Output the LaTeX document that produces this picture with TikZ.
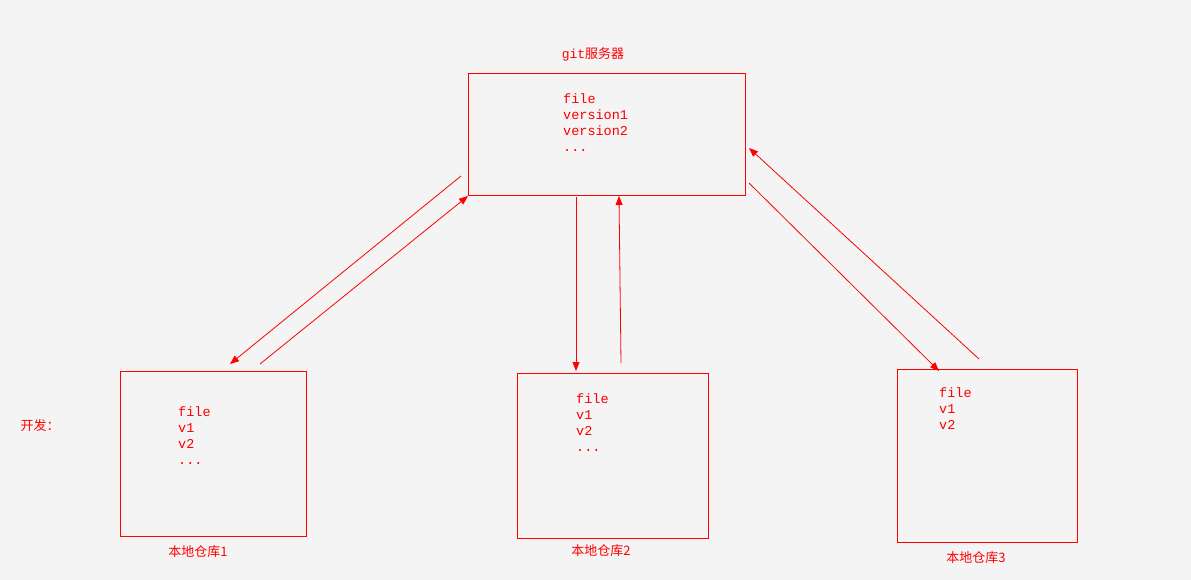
\documentclass[tikz,border=0pt]{standalone}
\usepackage{fontspec}
\setmonofont{Liberation Mono}
\newfontfamily\cjk{Noto Sans CJK SC}
\usetikzlibrary{arrows.meta}
\definecolor{bg}{HTML}{F4F4F4}
\definecolor{rd}{HTML}{FF0000}
\begin{document}
\begin{tikzpicture}[x=1pt,y=-1pt,
  box/.style={draw=rd,line width=0.8pt},
  txt/.style={text=rd,font=\ttfamily\fontsize{13.5}{16}\selectfont,anchor=north west,align=left,inner sep=0pt},
  lbl/.style={text=rd,font=\cjk\fontsize{13}{15}\selectfont,inner sep=0pt},
  arr/.style={draw=rd,line width=0.8pt,-{Triangle[length=9pt,width=7pt]}}]
\fill[bg] (0,0) rectangle (1191,580);
\useasboundingbox (0,0) rectangle (1191,580);
\draw[box] (468,73) rectangle (745,195);
\node[lbl] (sl) at (593,54) {{\ttfamily git}服务器};
\node[txt] (st) at (563,94) {file\\version1\\version2\\ ...};
\draw[box] (120,371) rectangle (306,536);
\node[txt] (t1) at (178,407) {file\\v1\\v2\\...};
\node[lbl] (l1) at (198,552) {本地仓库1};
\draw[box] (517,373) rectangle (708,538);
\node[txt] (t2) at (576,394) {file\\v1\\v2\\...};
\node[lbl] (l2) at (601,551) {本地仓库2};
\draw[box] (897,369) rectangle (1077,542);
\node[txt] (t3) at (939,388) {file\\v1\\v2};
\node[lbl] (l3) at (976,558) {本地仓库3};
\node[lbl] (kf) at (40,426) {开发：};
\coordinate (a1) at (461,176); \coordinate (b1) at (230,364);
\coordinate (a2) at (260,364); \coordinate (b2) at (468,196);
\coordinate (a3) at (576,197); \coordinate (b3) at (576,371);
\coordinate (a4) at (621,363); \coordinate (b4) at (619,196);
\coordinate (a5) at (749,183); \coordinate (b5) at (939,371);
\coordinate (a6) at (979,359); \coordinate (b6) at (749,148);
\draw[arr] (a1)--(b1); \draw[arr] (a2)--(b2); \draw[arr] (a3)--(b3);
\draw[arr] (a4)--(b4); \draw[arr] (a5)--(b5); \draw[arr] (a6)--(b6);
\end{tikzpicture}
\end{document}
